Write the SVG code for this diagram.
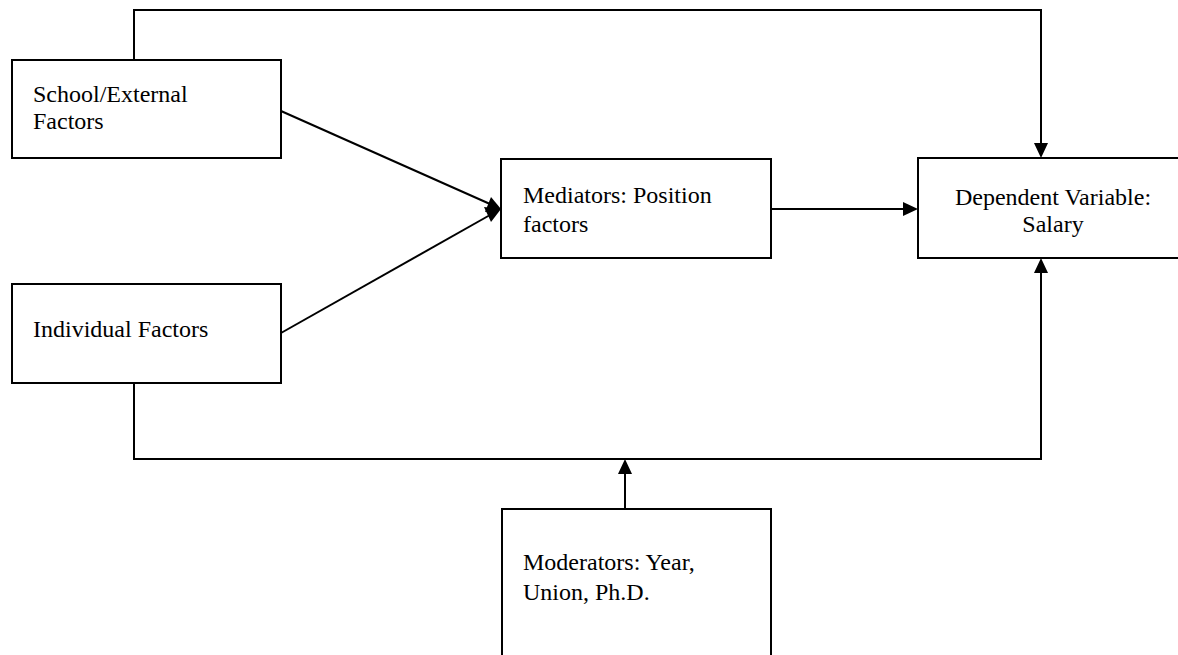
<svg xmlns="http://www.w3.org/2000/svg" width="1178" height="655" viewBox="0 0 1178 655">
<style>
.box{fill:#fff;stroke:#000;stroke-width:2}
.t{font-family:"Liberation Serif","Times New Roman",serif;font-size:24px;fill:#000}
.c{fill:none;stroke:#000;stroke-width:2}
.ah{fill:#000}
</style>
<g id="connectors">
<polyline class="c" points="134,60 134,10 1041,10 1041,144"/>
<polygon class="ah" points="1041,158 1034,143 1048,143"/>
<polyline class="c" points="134,383 134,459 1041,459 1041,272"/>
<polygon class="ah" points="1041,258 1034,273 1048,273"/>
<line class="c" x1="625" y1="509" x2="625" y2="473"/>
<polygon class="ah" points="625,459 618,474 632,474"/>
<line class="c" x1="771" y1="209" x2="904" y2="209"/>
<polygon class="ah" points="918,209 903,202 903,216"/>
<line class="c" x1="281" y1="111" x2="490" y2="204"/>
<polygon class="ah" points="501,209 485,212 491,197"/>
<line class="c" x1="281" y1="333" x2="490" y2="215"/>
<polygon class="ah" points="501,209 491,222 484,207"/>
</g>
<g id="school">
<rect class="box" x="12" y="60" width="269" height="98"/>
<text class="t" x="33" y="102">School/External</text>
<text class="t" x="33" y="129">Factors</text>
</g>
<g id="individual">
<rect class="box" x="12" y="284" width="269" height="99"/>
<text class="t" x="33" y="337">Individual Factors</text>
</g>
<g id="mediators">
<rect class="box" x="501" y="159" width="270" height="99"/>
<text class="t" x="523" y="203">Mediators: Position</text>
<text class="t" x="523" y="232">factors</text>
</g>
<g id="dependent">
<rect class="box" x="918" y="158" width="280" height="100"/>
<text class="t" x="1053" y="205" text-anchor="middle">Dependent Variable:</text>
<text class="t" x="1053" y="232" text-anchor="middle">Salary</text>
</g>
<g id="moderators">
<rect class="box" x="502" y="509" width="269" height="160"/>
<text class="t" x="523" y="570">Moderators: Year,</text>
<text class="t" x="523" y="600">Union, Ph.D.</text>
</g>
</svg>
